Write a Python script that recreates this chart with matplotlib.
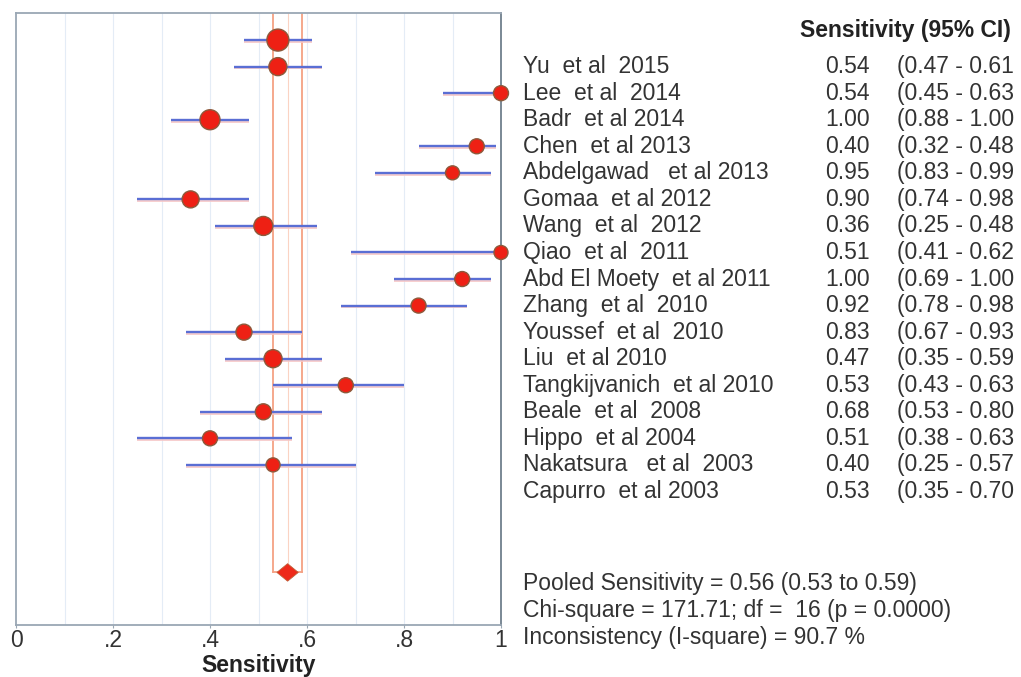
import matplotlib
matplotlib.use("Agg")
import matplotlib.pyplot as plt
import matplotlib.transforms as mtransforms
import numpy as np

plt.rcParams['font.family'] = ['Liberation Sans', 'DejaVu Sans']

# study data (top to bottom)
studies = ["Yu  et al  2015", "Lee  et al  2014", "Badr  et al 2014", "Chen  et al 2013",
           "Abdelgawad   et al 2013", "Gomaa  et al 2012", "Wang  et al  2012", "Qiao  et al  2011",
           "Abd El Moety  et al 2011", "Zhang  et al  2010", "Youssef  et al  2010", "Liu  et al 2010",
           "Tangkijvanich  et al 2010", "Beale  et al  2008", "Hippo  et al 2004",
           "Nakatsura   et al  2003", "Capurro  et al 2003"]
sens = [0.54, 0.54, 1.00, 0.40, 0.95, 0.90, 0.36, 0.51, 1.00, 0.92, 0.83, 0.47, 0.53, 0.68, 0.51, 0.40, 0.53]
ci_low = [0.47, 0.45, 0.88, 0.32, 0.83, 0.74, 0.25, 0.41, 0.69, 0.78, 0.67, 0.35, 0.43, 0.53, 0.38, 0.25, 0.35]
ci_high = [0.61, 0.63, 1.00, 0.48, 0.99, 0.98, 0.48, 0.62, 1.00, 0.98, 0.93, 0.59, 0.63, 0.80, 0.63, 0.57, 0.70]
# marker diameter in pixels (study weight)
weight_px = [22, 18, 15, 20, 15, 14, 17, 19, 14, 15, 15, 16, 18, 15, 16, 15, 14]

pooled = 0.56
pooled_low = 0.53
pooled_high = 0.59
summary_lines = ["Pooled Sensitivity = 0.56 (0.53 to 0.59)",
                 "Chi-square = 171.71; df =  16 (p = 0.0000)",
                 "Inconsistency (I-square) = 90.7 %"]

W, H = 1021, 677
fig = plt.figure(figsize=(W / 100, H / 100), dpi=100)
ax = fig.add_axes([16 / W, 1 - 625 / H, (501 - 16) / W, (625 - 13) / H])

n = len(studies)
rows = np.arange(n)

# faint grid every 0.1
for gx in np.arange(0.1, 1.0, 0.1):
    ax.axvline(gx, color="#e4ecf6", lw=0.8, zorder=0)

# pooled estimate lines
diamond_row = 20.05
ax.plot([pooled_low, pooled_low], [-1.1, diamond_row], color="#f4a184", lw=1.3, zorder=1)
ax.plot([pooled_high, pooled_high], [-1.1, diamond_row], color="#f4a184", lw=1.3, zorder=1)
ax.plot([pooled, pooled], [-1.1, diamond_row], color="#fbd3c3", lw=0.8, zorder=1)
ax.plot([pooled_low, pooled_high], [diamond_row, diamond_row], color="#f4a184", lw=1.3, zorder=1)
ax.fill([pooled - 0.022, pooled, pooled + 0.022, pooled],
        [diamond_row, diamond_row - 0.33, diamond_row, diamond_row + 0.33],
        color="#ee2a1a", ec="#c0603a", lw=0.6, zorder=3)

# confidence intervals
ax.hlines(rows + 0.07, ci_low, ci_high, color="#f6c6c6", lw=1.2, zorder=2)
ax.hlines(rows, ci_low, ci_high, color="#5a6ed4", lw=1.7, zorder=2)

# point estimates
sizes = [(d * 0.72) ** 2 for d in weight_px]
ax.scatter(sens, rows, s=sizes, color="#ee2014", edgecolors="#8c5a3c", linewidths=1.0,
           zorder=4, clip_on=False)

fs = 16.5
ax.set_xlim(0, 1)
ax.set_ylim(22.03, -1.02)
ax.set_yticks([])
ax.set_xticks([0, 0.2, 0.4, 0.6, 0.8, 1.0])
ax.set_xticklabels(["0", ".2", ".4", ".6", ".8", "1"], fontsize=fs, color="#333333")
ax.tick_params(axis="x", length=2, color="#9aa7b4", pad=1)
for side, sp in ax.spines.items():
    sp.set_color("#9aa7b4")
    sp.set_linewidth(1.3)
ax.spines["right"].set_color("#6f7f8c")
ax.set_xlabel("Sensitivity", fontsize=fs, fontweight="bold", color="#222222", labelpad=1)

# text columns
tr = mtransforms.blended_transform_factory(fig.transFigure, ax.transData)
txt_color = "#333333"
fig.text(800 / W, 1 - 30 / H, "Sensitivity (95% CI)", fontsize=fs, fontweight="bold",
         color="#222222", va="center", ha="left")
for i in range(n):
    r = i + 1
    ax.text(523 / W, r, studies[i], transform=tr, fontsize=fs, color=txt_color,
            va="center", ha="left", clip_on=False)
    ax.text(870 / W, r, f"{sens[i]:.2f}", transform=tr, fontsize=fs, color=txt_color,
            va="center", ha="right", clip_on=False)
    # closing bracket is cut off in the original
    ax.text(897 / W, r, f"({ci_low[i]:.2f} - {ci_high[i]:.2f}", transform=tr, fontsize=fs,
            color=txt_color, va="center", ha="left", clip_on=False)

for j, line in enumerate(summary_lines):
    ax.text(523 / W, 20.45 + j * 1.02, line, transform=tr, fontsize=fs, color=txt_color,
            va="center", ha="left", clip_on=False)

fig.savefig("out.png", dpi=100)
